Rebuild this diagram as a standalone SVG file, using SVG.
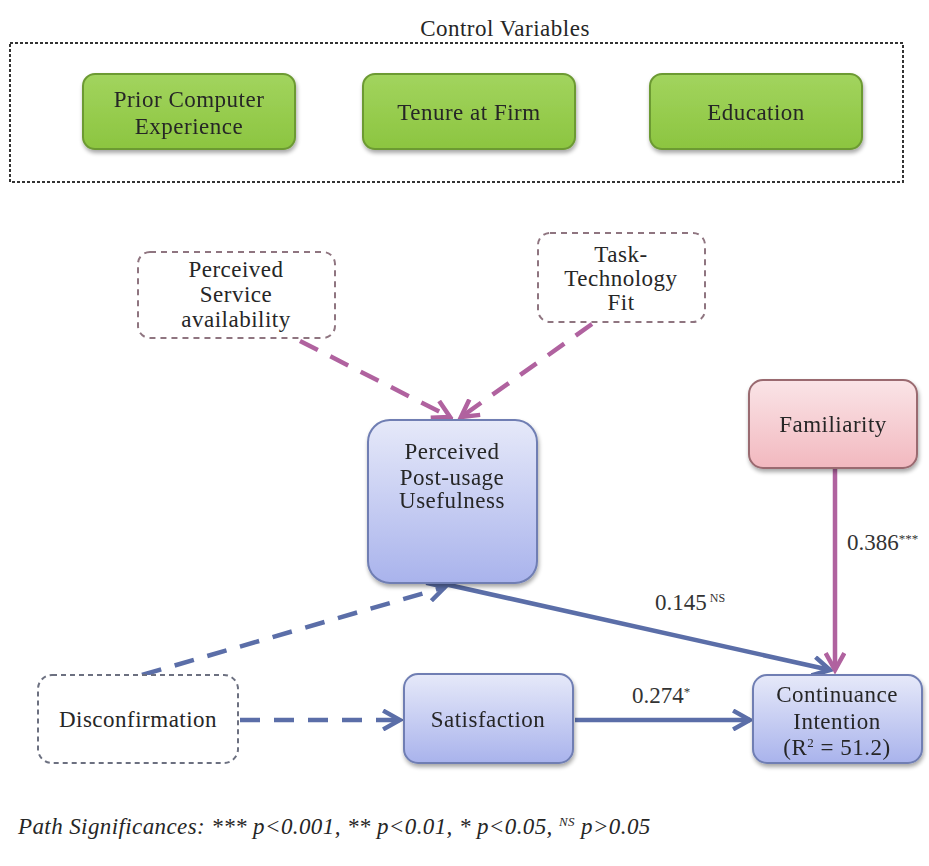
<svg xmlns="http://www.w3.org/2000/svg" width="929" height="866" viewBox="0 0 929 866" font-family="'Liberation Serif', 'DejaVu Serif', serif">
  <defs>
    <linearGradient id="gGreen" x1="0" y1="0" x2="0" y2="1">
      <stop offset="0" stop-color="#a2d45e"/>
      <stop offset="1" stop-color="#8cc540"/>
    </linearGradient>
    <linearGradient id="gBlue" x1="0" y1="0" x2="0" y2="1">
      <stop offset="0" stop-color="#e6e9f9"/>
      <stop offset="1" stop-color="#a9b3ec"/>
    </linearGradient>
    <linearGradient id="gPink" x1="0" y1="0" x2="0" y2="1">
      <stop offset="0" stop-color="#fae4e7"/>
      <stop offset="1" stop-color="#f2b8bf"/>
    </linearGradient>
    <filter id="shadow" x="-10%" y="-10%" width="125%" height="130%">
      <feGaussianBlur in="SourceAlpha" stdDeviation="2"/>
      <feOffset dx="1" dy="3" result="b"/>
      <feComponentTransfer><feFuncA type="linear" slope="0.35"/></feComponentTransfer>
      <feMerge><feMergeNode/><feMergeNode in="SourceGraphic"/></feMerge>
    </filter>
    <marker id="arrBlue" viewBox="0 0 12 12" refX="10" refY="6" markerWidth="5" markerHeight="5" orient="auto" markerUnits="strokeWidth">
      <path d="M1,1 L10,6 L1,11" fill="none" stroke="#5b6ea8" stroke-width="2.4"/>
    </marker>
    <marker id="arrPink" viewBox="0 0 12 12" refX="10" refY="6" markerWidth="5" markerHeight="5" orient="auto" markerUnits="strokeWidth">
      <path d="M1,1 L10,6 L1,11" fill="none" stroke="#b0629f" stroke-width="2.4"/>
    </marker>
    <style>
      text { font-family: "Liberation Serif", "DejaVu Serif", serif; fill: #262626; text-anchor: middle; font-size: 23px; letter-spacing: 0.5px; }
      .green { fill: url(#gGreen); stroke: #6c9a33; stroke-width: 2; }
      .blue { fill: url(#gBlue); stroke: #6f7eb3; stroke-width: 2; }
      .pink { fill: url(#gPink); stroke: #9a6a70; stroke-width: 2; }
      .dashMauve { fill: #ffffff; stroke: #8f7580; stroke-width: 2; stroke-dasharray: 6 5; }
      .dashGrey { fill: #ffffff; stroke: #6c7080; stroke-width: 2; stroke-dasharray: 5 4; }
      .outer { fill: none; stroke: #333; stroke-width: 2; stroke-dasharray: 3 2; }
      .cBlue { fill: none; stroke: #5b6ea8; stroke-width: 4.5; }
      .cPink { fill: none; stroke: #b0629f; stroke-width: 4.5; }
      .dashed { stroke-dasharray: 20 14; }
      .coef { text-anchor: start; fill: #333; letter-spacing: 0; }
      .note { text-anchor: start; font-style: italic; font-size: 23px; letter-spacing: 0.4px; }
    </style>
  </defs>

  <!-- control variables frame -->
  <g id="controls">
    <text x="505" y="36">Control Variables</text>
    <rect class="outer" x="10" y="43" width="893" height="139"/>
  </g>

  <g id="prior-experience" filter="url(#shadow)">
    <rect class="green" x="83" y="74" width="212" height="75" rx="12"/>
    <text x="189" y="107">Prior Computer</text>
    <text x="189" y="134">Experience</text>
  </g>

  <g id="tenure" filter="url(#shadow)">
    <rect class="green" x="363" y="74" width="212" height="75" rx="12"/>
    <text x="469" y="120">Tenure at Firm</text>
  </g>

  <g id="education" filter="url(#shadow)">
    <rect class="green" x="650" y="74" width="212" height="75" rx="12"/>
    <text x="756" y="120">Education</text>
  </g>

  <!-- connectors -->
  <g id="connectors">
    <path class="cPink dashed" d="M300,341 L450,417" marker-end="url(#arrPink)"/>
    <path class="cPink dashed" d="M592,324 L461,417" marker-end="url(#arrPink)"/>
    <path class="cBlue dashed" d="M142,675 L445,587" marker-end="url(#arrBlue)"/>
    <path class="cBlue dashed" d="M240,720 L400,720" marker-end="url(#arrBlue)"/>
    <path class="cBlue" d="M440,583 L830,670" marker-end="url(#arrBlue)"/>
    <path class="cBlue" d="M575,720 L750,720" marker-end="url(#arrBlue)"/>
    <path class="cPink" d="M835,469 L835,670" marker-end="url(#arrPink)"/>
    <text class="coef" x="655" y="610">0.145<tspan font-size="12" dx="3" dy="-8">NS</tspan></text>
    <text class="coef" x="847" y="550">0.386<tspan font-size="13" dy="-7">***</tspan></text>
    <text class="coef" x="632" y="703">0.274<tspan font-size="13" dy="-7">*</tspan></text>
  </g>

  <g id="service-availability">
    <rect class="dashMauve" x="138" y="252" width="197" height="86" rx="12"/>
    <text x="236" y="277">Perceived</text>
    <text x="236" y="302">Service</text>
    <text x="236" y="327">availability</text>
  </g>

  <g id="task-technology-fit">
    <rect class="dashMauve" x="538" y="233" width="167" height="89" rx="12"/>
    <text x="621" y="262">Task-</text>
    <text x="621" y="286">Technology</text>
    <text x="621" y="310">Fit</text>
  </g>

  <g id="usefulness" filter="url(#shadow)">
    <rect class="blue" x="368" y="420" width="169" height="163" rx="22"/>
    <text x="452" y="459">Perceived</text>
    <text x="452" y="485">Post-usage</text>
    <text x="452" y="508">Usefulness</text>
  </g>

  <g id="familiarity" filter="url(#shadow)">
    <rect class="pink" x="749" y="380" width="168" height="88" rx="14"/>
    <text x="833" y="432">Familiarity</text>
  </g>

  <g id="disconfirmation">
    <rect class="dashGrey" x="38" y="675" width="200" height="88" rx="14"/>
    <text x="138" y="727">Disconfirmation</text>
  </g>

  <g id="satisfaction" filter="url(#shadow)">
    <rect class="blue" x="404" y="674" width="169" height="89" rx="14"/>
    <text x="488" y="727">Satisfaction</text>
  </g>

  <g id="continuance" filter="url(#shadow)">
    <rect class="blue" x="753" y="675" width="169" height="88" rx="14"/>
    <text x="837" y="702">Continuance</text>
    <text x="837" y="729">Intention</text>
    <text x="837" y="755">(R<tspan font-size="13" dy="-8">2</tspan><tspan dy="8"> = 51.2)</tspan></text>
  </g>

  <text class="note" x="18" y="834">Path Significances: *** p&lt;0.001, ** p&lt;0.01, * p&lt;0.05, <tspan font-size="13" dy="-8">NS</tspan><tspan dy="8"> p&gt;0.05</tspan></text>
</svg>
